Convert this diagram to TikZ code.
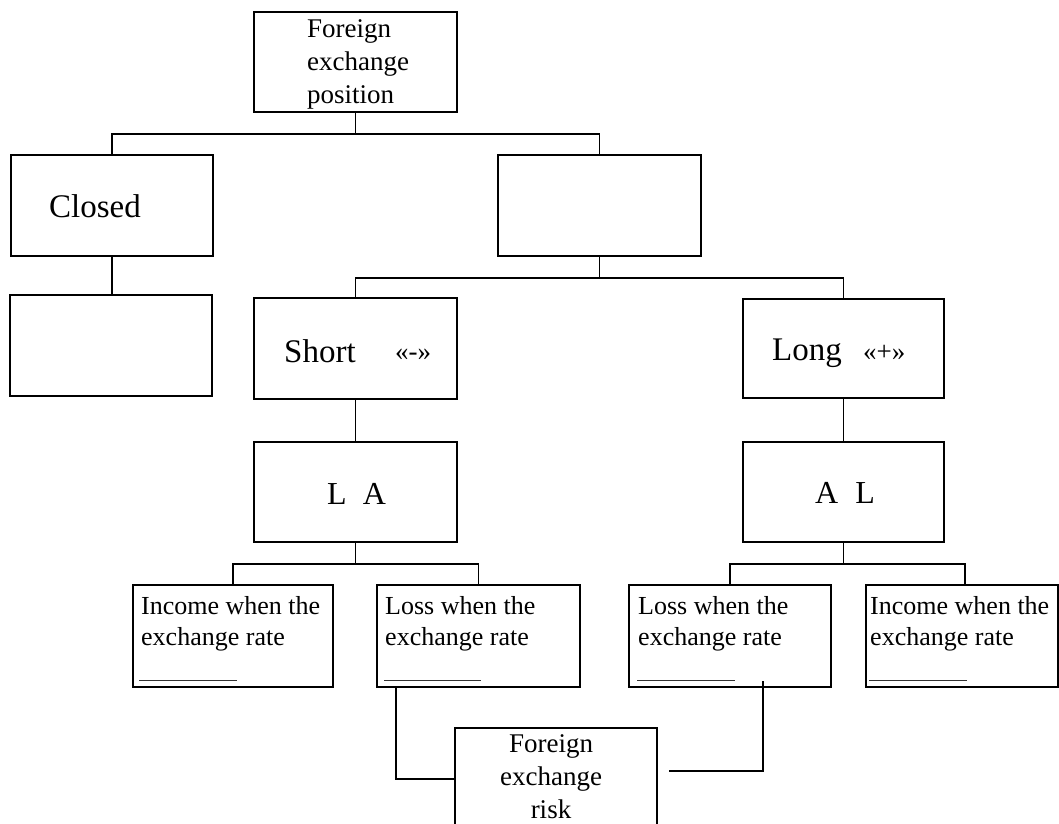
\documentclass[tikz,border=0pt]{standalone}
\usepackage{fontspec}
\setmainfont{Liberation Serif}
\usetikzlibrary{calc}
\begin{document}
\begin{tikzpicture}[x=1pt,y=-1pt,
  box/.style={draw=black,line width=2pt,inner sep=0pt,fill=white},
  link/.style={draw=black,line width=1.5pt},
  uline/.style={draw=black!80,line width=1pt},
  txt/.style={inner sep=0pt,anchor=base west,text=black},
  big/.style={font=\fontsize{33}{38}\selectfont},
  mid/.style={font=\fontsize{27}{33}\selectfont},
  small/.style={font=\fontsize{26}{31}\selectfont}]
\useasboundingbox (0,0) rectangle (1059,823);
\clip (0,0) rectangle (1059,823);
\fill[white] (0,0) rectangle (1059,823);
% boxes
\node[box,minimum width=203pt,minimum height=100pt] (top) at (355.5,62) {};
\node[box,minimum width=202pt,minimum height=101pt] (closed) at (112,205.5) {};
\node[box,minimum width=202pt,minimum height=101pt] (closedsub) at (111,345.5) {};
\node[box,minimum width=203pt,minimum height=101pt] (open) at (599.5,205.5) {};
\node[box,minimum width=203pt,minimum height=101pt] (short) at (355.5,348.5) {};
\node[box,minimum width=201pt,minimum height=99pt] (long) at (843.5,348.5) {};
\node[box,minimum width=203pt,minimum height=100pt] (la) at (355.5,492) {};
\node[box,minimum width=201pt,minimum height=100pt] (al) at (843.5,492) {};
\node[box,minimum width=200pt,minimum height=102pt] (inc1) at (233,636) {};
\node[box,minimum width=203pt,minimum height=102pt] (loss1) at (478.5,636) {};
\node[box,minimum width=202pt,minimum height=102pt] (loss2) at (730,636) {};
\node[box,minimum width=192pt,minimum height=102pt] (inc2) at (962,636) {};
\node[box,minimum width=202pt,minimum height=102pt] (risk) at (556,779) {};
% texts
\node[txt,mid] (toptxt) at (307,37) {\begin{tabular}[t]{@{}l@{}}Foreign\\exchange\\position\end{tabular}};
\node[txt,big] (closedtxt) at (49,217) {Closed};
\node[txt,big] (shorttxt) at (284,362) {Short};
\node[txt,mid] (shortsign) at (395,360) {«-»};
\node[txt,big] (longtxt) at (772,360) {Long};
\node[txt,mid] (longsign) at (863,360) {«+»};
\node[txt,font=\fontsize{32}{38}\selectfont] (latxt) at (327,504) {L\hspace{16pt}A};
\node[txt,font=\fontsize{32}{38}\selectfont] (altxt) at (815,503) {A\hspace{17pt}L};
\node[txt,small] (inc1txt) at (141,614) {\begin{tabular}[t]{@{}l@{}}Income when the\\exchange rate\end{tabular}};
\node[txt,small] (loss1txt) at (385,614) {\begin{tabular}[t]{@{}l@{}}Loss when the\\exchange rate\end{tabular}};
\node[txt,small] (loss2txt) at (638,614) {\begin{tabular}[t]{@{}l@{}}Loss when the\\exchange rate\end{tabular}};
\node[txt,small] (inc2txt) at (870,614) {\begin{tabular}[t]{@{}l@{}}Income when the\\exchange rate\end{tabular}};
\node[txt,mid,anchor=base] (risktxt) at (551,752) {\begin{tabular}[t]{@{}c@{}}Foreign\\exchange\\risk\end{tabular}};
% underlines
\draw[uline] ($(inc1.south west)+(7,-8)$) -- ++(98,0);
\draw[uline] ($(loss1.south west)+(8,-8)$) -- ++(97,0);
\draw[uline] ($(loss2.south west)+(9,-8)$) -- ++(98,0);
\draw[uline] ($(inc2.south west)+(4,-8)$) -- ++(98,0);
% connectors
\draw[link] (top.south) -- ++(0,21);
\draw[link] (closed.north) |- ($(top.south)+(0,21)$) -| (open.north);
\draw[link] (closed.south) -- (closed.south |- closedsub.north);
\draw[link] (open.south) -- ++(0,21);
\draw[link] (short.north) |- ($(open.south)+(0,21)$) -| (long.north);
\draw[link] (short.south) -- (la.north);
\draw[link] (long.south) -- (al.north);
\draw[link] (la.south) -- ++(0,21);
\draw[link] (inc1.north) |- ($(la.south)+(0,21)$) -| (loss1.north);
\draw[link] (al.south) -- ++(0,21);
\draw[link] (loss2.north) |- ($(al.south)+(0,21)$) -| ($(inc2.north)+(3,0)$);
\draw[link] ($(loss1.south west)+(20,0)$) |- (risk.west);
\coordinate (rc1) at (763,681);
\coordinate (rc2) at (669,771);
\draw[link] (rc1) |- (rc2);
\end{tikzpicture}
\end{document}
